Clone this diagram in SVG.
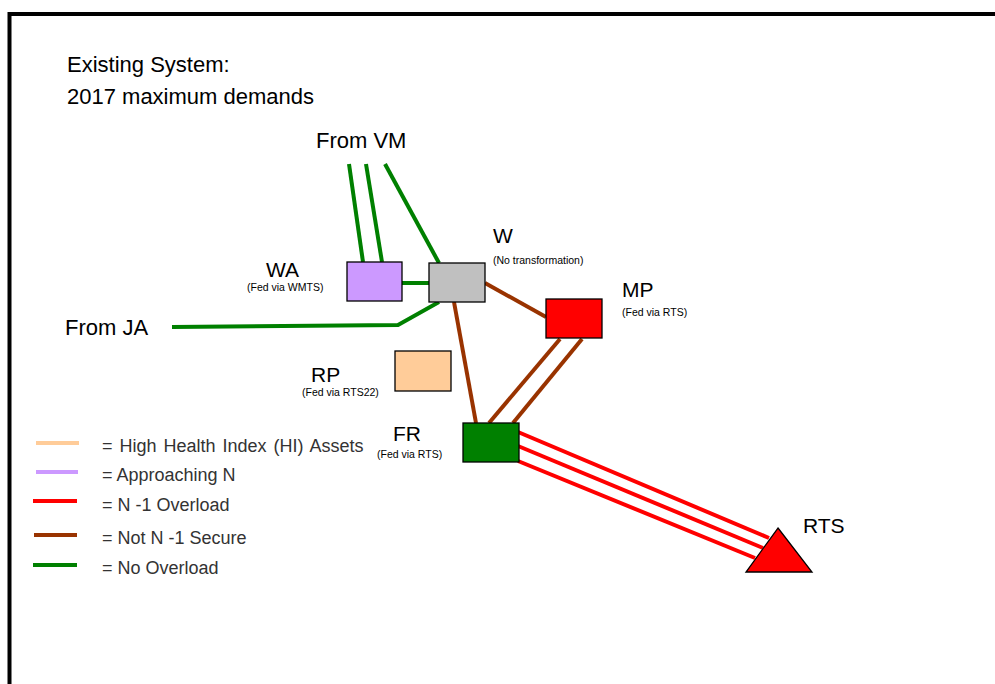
<svg xmlns="http://www.w3.org/2000/svg" width="995" height="684" viewBox="0 0 995 684">
<style>
text{font-family:"Liberation Sans",Arial,sans-serif;fill:#000}
.big{font-size:21px}
.lbl{font-size:22px}
.small{font-size:10.5px}
.leg{font-size:18px;fill:#333}
.node{stroke:#000;stroke-width:1.3}
.ln{fill:none;stroke-width:4}
.g{stroke:#008000}.b{stroke:#993300}.r{stroke:#ff0000}.p{stroke:#ffcc99}.v{stroke:#cc99ff}
</style>
<rect x="0" y="0" width="995" height="684" fill="#fff"/>
<path d="M9.5 690 V14 H1000" fill="none" stroke="#000" stroke-width="4"/>
<g id="title">
<text class="lbl" x="67" y="72">Existing System:</text>
<text class="lbl" x="67" y="104">2017 maximum demands</text>
</g>
<g id="connectors">
<line class="ln g" x1="349" y1="164" x2="363" y2="262"/>
<line class="ln g" x1="366" y1="164" x2="382" y2="262"/>
<line class="ln g" x1="385" y1="164" x2="439" y2="263"/>
<line class="ln g" x1="402" y1="283" x2="429" y2="283"/>
<polyline class="ln g" points="172,327 398,325 439,302"/>
<line class="ln b" x1="485" y1="283" x2="546" y2="317"/>
<line class="ln b" x1="454" y1="302" x2="476" y2="423"/>
<line class="ln b" x1="560" y1="339" x2="489" y2="423"/>
<line class="ln b" x1="582" y1="339" x2="513" y2="423"/>
<line class="ln r" x1="518" y1="432" x2="769" y2="538"/>
<line class="ln r" x1="518" y1="446" x2="763" y2="548"/>
<line class="ln r" x1="518" y1="461" x2="755" y2="558"/>
</g>
<g id="fromVM"><text class="lbl" x="316" y="148">From VM</text></g>
<g id="fromJA"><text class="lbl" x="65" y="335">From JA</text></g>
<g id="WA">
<rect class="node" x="347" y="262" width="55" height="39" fill="#cc99ff"/>
<text class="big" x="266" y="277">WA</text>
<text class="small" x="247" y="291">(Fed via WMTS)</text>
</g>
<g id="W">
<rect class="node" x="429" y="263" width="56" height="39" fill="#c0c0c0"/>
<text class="big" x="493" y="243">W</text>
<text class="small" x="493" y="264">(No transformation)</text>
</g>
<g id="MP">
<rect class="node" x="546" y="299" width="56" height="39" fill="#ff0000"/>
<text class="big" x="622" y="297">MP</text>
<text class="small" x="622" y="316">(Fed via RTS)</text>
</g>
<g id="RP">
<rect class="node" x="395" y="351" width="56" height="40" fill="#ffcc99"/>
<text class="big" x="311" y="382">RP</text>
<text class="small" x="302" y="396">(Fed via RTS22)</text>
</g>
<g id="FR">
<rect class="node" x="463" y="423" width="56" height="39" fill="#008000"/>
<text class="big" x="393" y="441">FR</text>
<text class="small" x="377" y="458">(Fed via RTS)</text>
</g>
<g id="RTS">
<polygon class="node" points="778,528 812,572 746,572" fill="#ff0000"/>
<text class="big" x="803" y="533">RTS</text>
</g>
<g id="legend">
<line class="ln p" x1="36" y1="443" x2="79" y2="443"/>
<line class="ln v" x1="36" y1="472" x2="78" y2="472"/>
<line class="ln r" x1="33" y1="501" x2="77" y2="501"/>
<line class="ln b" x1="34" y1="535" x2="77" y2="535"/>
<line class="ln g" x1="33" y1="565" x2="77" y2="565"/>
<text class="leg" x="102" y="452" word-spacing="2">= High Health Index (HI) Assets</text>
<text class="leg" x="102" y="481">= Approaching N</text>
<text class="leg" x="102" y="511">= N -1 Overload</text>
<text class="leg" x="102" y="544">= Not N -1 Secure</text>
<text class="leg" x="102" y="574">= No Overload</text>
</g>
</svg>
